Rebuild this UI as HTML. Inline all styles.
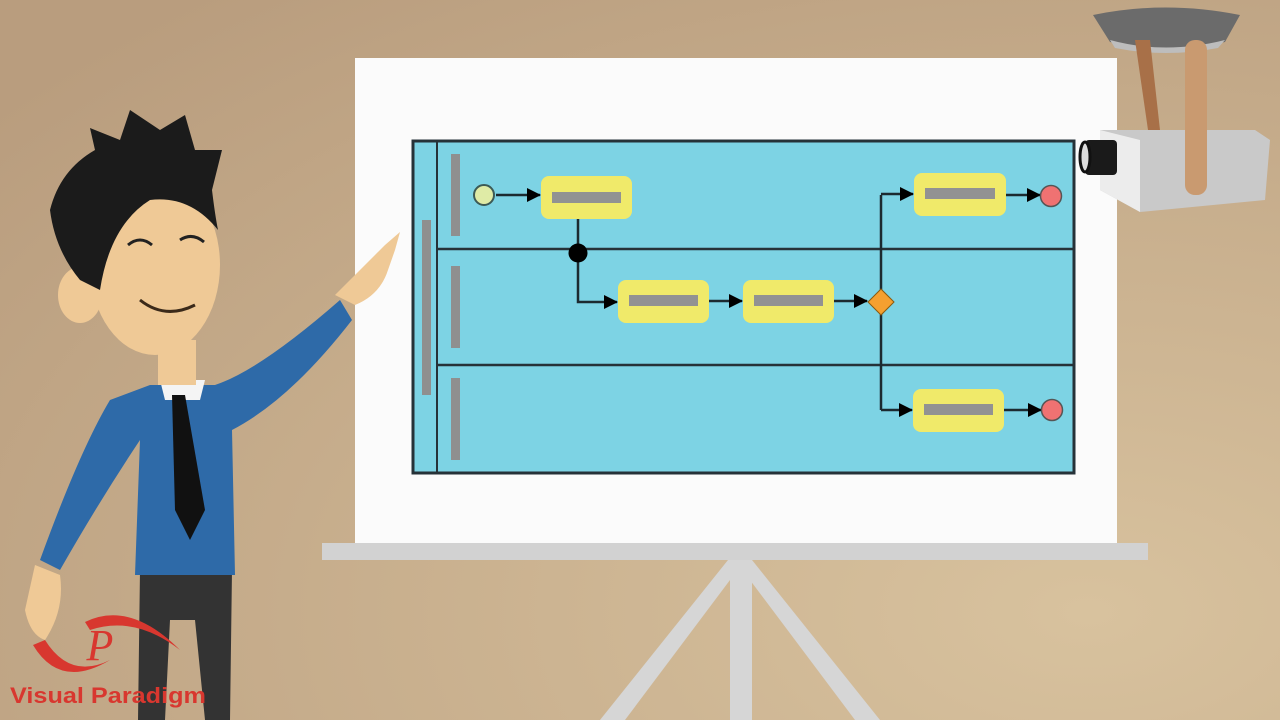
<!DOCTYPE html>
<html><head><meta charset="utf-8"><style>
html,body{margin:0;padding:0;width:1280px;height:720px;overflow:hidden}
svg{display:block}
</style></head><body>
<svg width="1280" height="720" viewBox="0 0 1280 720">
<defs>
<radialGradient id="bg" cx="0.85" cy="0.85" r="1.1">
<stop offset="0" stop-color="#d8c29e"/><stop offset="1" stop-color="#b99d7e"/>
</radialGradient>
<marker id="ah" markerWidth="14" markerHeight="14" refX="13" refY="7" orient="auto" markerUnits="userSpaceOnUse"><path d="M0,0 L14,7 L0,14 z" fill="#000"/></marker>
</defs>
<rect width="1280" height="720" fill="url(#bg)"/>

<g fill="#d6d6d6">
<polygon points="730,560 752,560 752,720 730,720"/>
<polygon points="728,560 745,560 625,720 600,720"/>
<polygon points="735,560 752,560 880,720 855,720"/>
</g>
<rect x="355" y="58" width="762" height="487" fill="#fbfbfb"/>
<rect x="322" y="543" width="826" height="17" fill="#d2d2d2"/>

<g>
<rect x="413" y="141" width="661" height="332" fill="#7dd3e4" stroke="#263238" stroke-width="3"/>
<line x1="437" y1="141" x2="437" y2="473" stroke="#263238" stroke-width="2"/>
<line x1="437" y1="249" x2="1074" y2="249" stroke="#263238" stroke-width="2.5"/>
<line x1="437" y1="365" x2="1074" y2="365" stroke="#263238" stroke-width="2.5"/>
<rect x="422" y="220" width="9" height="175" fill="#8f8f8f"/>
<rect x="451" y="154" width="9" height="82" fill="#8f8f8f"/>
<rect x="451" y="266" width="9" height="82" fill="#8f8f8f"/>
<rect x="451" y="378" width="9" height="82" fill="#8f8f8f"/>
<g stroke="#1c2a30" stroke-width="2.5" fill="none">
<line x1="496" y1="195" x2="540" y2="195" marker-end="url(#ah)"/>
<polyline points="578,218 578,302 617,302" marker-end="url(#ah)"/>
<line x1="708" y1="301" x2="742" y2="301" marker-end="url(#ah)"/>
<line x1="833" y1="301" x2="867" y2="301" marker-end="url(#ah)"/>
<polyline points="881,195 881,410"/>
<line x1="881" y1="194" x2="913" y2="194" marker-end="url(#ah)"/>
<line x1="881" y1="410" x2="912" y2="410" marker-end="url(#ah)"/>
<line x1="1005" y1="195" x2="1040" y2="195" marker-end="url(#ah)"/>
<line x1="1003" y1="410" x2="1041" y2="410" marker-end="url(#ah)"/>
</g>
<circle cx="484" cy="195" r="10" fill="#dfeba6" stroke="#3d5a55" stroke-width="2"/>
<circle cx="578" cy="253" r="9.5" fill="#000"/>
<polygon points="881,289 894,302 881,315 868,302" fill="#f5a030" stroke="#8a5a10" stroke-width="1"/>
<circle cx="1051" cy="196" r="10.5" fill="#ef7272" stroke="#555" stroke-width="1.5"/>
<circle cx="1052" cy="410" r="10.5" fill="#ef7272" stroke="#555" stroke-width="1.5"/>
<g><rect x="541" y="176" width="91" height="43" rx="8" fill="#f0ea6a"/><rect x="552" y="192" width="69" height="11" fill="#929292"/></g>
<g><rect x="618" y="280" width="91" height="43" rx="8" fill="#f0ea6a"/><rect x="629" y="295" width="69" height="11" fill="#929292"/></g>
<g><rect x="743" y="280" width="91" height="43" rx="8" fill="#f0ea6a"/><rect x="754" y="295" width="69" height="11" fill="#929292"/></g>
<g><rect x="914" y="173" width="92" height="43" rx="8" fill="#f0ea6a"/><rect x="925" y="188" width="70" height="11" fill="#929292"/></g>
<g><rect x="913" y="389" width="91" height="43" rx="8" fill="#f0ea6a"/><rect x="924" y="404" width="69" height="11" fill="#929292"/></g>
</g>

<g>
<path d="M1093,15 Q1165,0 1240,15 L1225,42 Q1165,55 1110,42 z" fill="#6b6b6b"/>
<path d="M1110,40 Q1165,55 1225,40 L1218,48 Q1165,58 1115,48 z" fill="#bdbdbd"/>
<polygon points="1135,40 1150,40 1160,130 1148,130" fill="#a87048"/>
<polygon points="1100,130 1255,130 1270,140 1265,200 1140,212 1100,190" fill="#c9c9c9"/>
<polygon points="1100,130 1140,140 1140,212 1100,190" fill="#ececec"/>
<rect x="1185" y="40" width="22" height="155" rx="10" fill="#c99a70"/>
<rect x="1085" y="140" width="32" height="35" rx="4" fill="#1a1a1a"/>
<ellipse cx="1085" cy="157" rx="5" ry="15" fill="#ddd" stroke="#111" stroke-width="3"/>
</g>

<g>
<polygon points="140,570 232,570 230,720 205,720 195,620 170,620 165,720 138,720" fill="#333"/>
<path d="M150,385 L215,385 Q260,370 340,300 L352,320 Q290,400 232,430 L235,575 L135,575 L140,440 Q100,500 60,570 L40,560 Q80,450 110,400 z" fill="#2e6aa8"/>
<polygon points="160,380 205,380 200,400 165,400" fill="#f4f4f4"/>
<polygon points="172,395 185,395 205,510 190,540 175,510" fill="#111"/>
<rect x="158" y="340" width="38" height="45" fill="#efc996"/>
<path d="M335,295 Q360,270 385,245 L400,232 L395,250 L388,270 Q380,295 355,305 z" fill="#efc996"/>
<path d="M35,565 L60,575 Q65,610 45,640 Q30,635 25,610 z" fill="#efc996"/>
<ellipse cx="155" cy="265" rx="65" ry="90" fill="#efc996"/>
<ellipse cx="80" cy="295" rx="22" ry="28" fill="#efc996"/>
<path d="M50,210 Q60,170 95,150 L90,128 L120,140 L130,110 L160,130 L185,115 L195,150 L222,150 L212,190 Q215,215 218,230 Q190,195 150,200 Q110,225 100,290 L80,280 Q55,250 50,210 z" fill="#1b1b1b"/>
<path d="M140,300 Q165,320 195,305" stroke="#3b2a1a" stroke-width="3" fill="none"/>
<path d="M128,245 Q140,235 152,245 M180,240 Q192,232 204,242" stroke="#222" stroke-width="3" fill="none"/>
</g>

<g>
<path d="M33,645 Q60,690 110,660 Q70,680 45,640 z" fill="#d8372f"/>
<path d="M85,622 Q130,600 180,650 Q135,615 90,630 z" fill="#d8372f"/>
<text x="100" y="660" font-family="Liberation Serif, serif" font-style="italic" font-size="44" fill="#d8372f" text-anchor="middle">P</text>
<text x="10" y="703" font-family="Liberation Sans, sans-serif" font-weight="bold" font-size="22" textLength="196" lengthAdjust="spacingAndGlyphs" fill="#d8372f">Visual Paradigm</text>
</g>
</svg>
</body></html>
